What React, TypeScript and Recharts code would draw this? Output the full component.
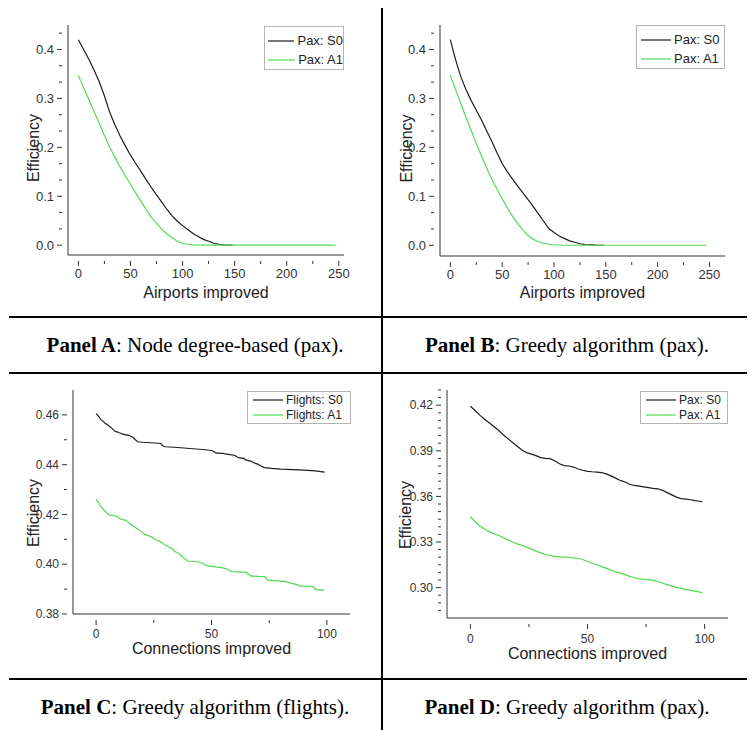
import { LineChart, Line, XAxis, YAxis, Legend } from "recharts"

const FONT = '"Liberation Sans", Arial, sans-serif'
const SERIF = '"Liberation Serif", "Times New Roman", serif'
const AXIS = "#333"
const TEXT = "#333"
const BLACK = "#1c1c1c"
const GREEN = "#4fdb4f"

// Panel A - node degree-based (pax)
const aS0X = [0, 5, 10, 15, 20, 25, 30, 35, 40, 45, 50, 55, 60, 65, 70, 75, 80, 85, 90, 95, 100, 105, 110, 115, 120, 125, 130, 135, 140, 148]
const aS0Y = [0.420, 0.400, 0.380, 0.358, 0.334, 0.305, 0.272, 0.246, 0.223, 0.203, 0.184, 0.167, 0.151, 0.134, 0.118, 0.103, 0.088, 0.073, 0.060, 0.049, 0.040, 0.032, 0.024, 0.018, 0.012, 0.008, 0.004, 0.002, 0.0005, 0]
const aA1X = [0, 5, 10, 15, 20, 25, 30, 35, 40, 45, 50, 55, 60, 65, 70, 75, 80, 85, 90, 95, 100, 105, 110, 120, 150, 200, 247]
const aA1Y = [0.347, 0.322, 0.298, 0.273, 0.249, 0.224, 0.200, 0.180, 0.160, 0.142, 0.125, 0.107, 0.090, 0.073, 0.057, 0.045, 0.033, 0.023, 0.015, 0.008, 0.004, 0.002, 0.0005, 0, 0, 0, 0]

// Panel B - greedy (pax), airports
const bS0X = [0, 3, 6, 10, 15, 20, 25, 30, 35, 40, 45, 50, 55, 60, 65, 70, 75, 80, 85, 90, 95, 100, 105, 110, 115, 120, 125, 130, 140, 148]
const bS0Y = [0.420, 0.395, 0.372, 0.345, 0.318, 0.296, 0.276, 0.256, 0.234, 0.212, 0.189, 0.167, 0.150, 0.135, 0.121, 0.107, 0.093, 0.079, 0.064, 0.049, 0.034, 0.026, 0.019, 0.014, 0.009, 0.006, 0.003, 0.0015, 0.0003, 0]
const bA1X = [0, 5, 10, 15, 20, 25, 30, 35, 40, 45, 50, 55, 60, 65, 70, 75, 80, 85, 90, 95, 100, 110, 150, 200, 247]
const bA1Y = [0.347, 0.318, 0.290, 0.262, 0.235, 0.208, 0.183, 0.158, 0.135, 0.115, 0.095, 0.076, 0.059, 0.044, 0.031, 0.020, 0.012, 0.007, 0.004, 0.002, 0.001, 0, 0, 0, 0]

// Panel C - greedy (flights), connections
const cS0X = [0, 1, 2, 3, 4, 5, 6, 7, 8, 9, 10, 12, 14, 16, 17, 18, 20, 24, 28, 29, 30, 34, 38, 42, 46, 50, 51, 52, 55, 56, 58, 60, 61, 62, 64, 65, 67, 68, 69, 70, 72, 73, 76, 80, 85, 90, 95, 99]
const cS0Y = [0.4605, 0.4595, 0.4582, 0.4575, 0.4565, 0.4560, 0.4552, 0.4545, 0.4535, 0.4532, 0.4528, 0.4522, 0.4518, 0.4510, 0.4500, 0.4492, 0.4490, 0.4488, 0.4485, 0.4475, 0.4472, 0.4470, 0.4467, 0.4464, 0.4461, 0.4457, 0.4453, 0.4446, 0.4445, 0.4443, 0.4440, 0.4438, 0.4432, 0.4427, 0.4425, 0.4418, 0.4414, 0.4410, 0.4405, 0.4402, 0.4392, 0.4388, 0.4385, 0.4382, 0.4380, 0.4378, 0.4375, 0.4370]
const cA1X = [0, 1, 2, 3, 4, 5, 6, 8, 9, 10, 11, 12, 13, 14, 15, 16, 17, 18, 19, 20, 21, 22, 24, 25, 26, 28, 29, 30, 31, 33, 34, 35, 36, 37, 38, 39, 40, 44, 46, 47, 48, 50, 55, 57, 58, 59, 65, 66, 67, 70, 73, 74, 75, 80, 82, 84, 87, 88, 94, 95, 96, 99]
const cA1Y = [0.4262, 0.4248, 0.4232, 0.4222, 0.4212, 0.4203, 0.4197, 0.4195, 0.4192, 0.4186, 0.4180, 0.4178, 0.4176, 0.4168, 0.4160, 0.4155, 0.4148, 0.4142, 0.4135, 0.4128, 0.4120, 0.4117, 0.4110, 0.4103, 0.4097, 0.4090, 0.4083, 0.4077, 0.4072, 0.4062, 0.4052, 0.4047, 0.4043, 0.4033, 0.4025, 0.4018, 0.4012, 0.4010, 0.4005, 0.3998, 0.3993, 0.3991, 0.3985, 0.3980, 0.3973, 0.3970, 0.3967, 0.3960, 0.3953, 0.3951, 0.3950, 0.3940, 0.3935, 0.3932, 0.3930, 0.3925, 0.3918, 0.3913, 0.3910, 0.3900, 0.3897, 0.3897]

// Panel D - greedy (pax), connections
const dX = [0, 2, 4, 6, 8, 10, 12, 14, 16, 18, 20, 22, 24, 26, 28, 30, 32, 34, 36, 38, 40, 42, 44, 46, 48, 50, 52, 54, 56, 58, 60, 62, 64, 66, 68, 70, 72, 74, 76, 78, 80, 82, 84, 86, 88, 90, 92, 94, 96, 98, 99]
const dS0Y = [0.4193, 0.4165, 0.4135, 0.4108, 0.4085, 0.4060, 0.4035, 0.4005, 0.3980, 0.3955, 0.3930, 0.3905, 0.3888, 0.3878, 0.3868, 0.3855, 0.3850, 0.3848, 0.3835, 0.3815, 0.3803, 0.3800, 0.3793, 0.3780, 0.3772, 0.3765, 0.3762, 0.3760, 0.3757, 0.3748, 0.3735, 0.3720, 0.3705, 0.3695, 0.3680, 0.3672, 0.3668, 0.3663, 0.3658, 0.3653, 0.3650, 0.3640, 0.3625, 0.3610, 0.3595, 0.3585, 0.3582, 0.3578, 0.3572, 0.3568, 0.3566]
const dA1Y = [0.3466, 0.3435, 0.3405, 0.3385, 0.3368, 0.3355, 0.3343, 0.3330, 0.3315, 0.3300, 0.3288, 0.3278, 0.3266, 0.3253, 0.3240, 0.3228, 0.3218, 0.3210, 0.3205, 0.3202, 0.3200, 0.3198, 0.3196, 0.3193, 0.3185, 0.3172, 0.3160, 0.3150, 0.3138, 0.3128, 0.3115, 0.3103, 0.3095, 0.3085, 0.3074, 0.3065, 0.3058, 0.3055, 0.3052, 0.3048, 0.3040, 0.3030, 0.3020, 0.3010, 0.3002, 0.2995, 0.2988, 0.2982, 0.2977, 0.2970, 0.2967]

// ticks
const airportMajor = [0, 50, 100, 150, 200, 250]
const airportMinor = [25, 75, 125, 175, 225]
const connMajor = [0, 50, 100]
const connMinor = [25, 75]
const effABMajor = [0, 0.1, 0.2, 0.3, 0.4]
const effABMinor = [0.0333, 0.0667, 0.1333, 0.1667, 0.2333, 0.2667, 0.3333, 0.3667, 0.4333]
const effCMajor = [0.38, 0.40, 0.42, 0.44, 0.46]
const effCMinor = [0.39, 0.41, 0.43, 0.45]
const effDMajor = [0.30, 0.33, 0.36, 0.39, 0.42]
const effDMinor = [0.285, 0.29, 0.295, 0.305, 0.31, 0.315, 0.32, 0.325, 0.335, 0.34, 0.345, 0.35, 0.355, 0.365, 0.37, 0.375, 0.38, 0.385, 0.395, 0.40, 0.405, 0.41, 0.415, 0.425, 0.43]

const zip = (xs: number[], ys: number[]) => xs.map((x, i) => ({ x, y: ys[i] }))
const isMajor = (v: number, majors: number[]) => majors.some((m) => Math.abs(m - v) < 1e-9)

function XTick({ x, y, payload, majors, fontSize, gap }: any) {
  const major = isMajor(payload.value, majors)
  return (
    <g>
      <line x1={x} y1={y} x2={x} y2={y + (major ? 5 : 3)} stroke={AXIS} />
      {major && (
        <text x={x} y={y + gap} dy="0.71em" textAnchor="middle" fill={TEXT} fontSize={fontSize} fontFamily={FONT}>
          {payload.value}
        </text>
      )}
    </g>
  )
}

function YTick({ x, y, payload, majors, fontSize, digits }: any) {
  const major = isMajor(payload.value, majors)
  return (
    <g>
      <line x1={x} y1={y} x2={x - (major ? 5 : 3)} y2={y} stroke={AXIS} />
      {major && (
        <text x={x - 8} y={y} dy="0.35em" textAnchor="end" fill={TEXT} fontSize={fontSize} fontFamily={FONT}>
          {payload.value.toFixed(digits)}
        </text>
      )}
    </g>
  )
}

// legend box, rows kept in series order (recharts sorts by name otherwise)
function LegendBox({ payload, order, boxW, fontSize, rowH, padTop, padLeft }: any) {
  const rows = [...(payload || [])].sort((a: any, b: any) => order.indexOf(a.value) - order.indexOf(b.value))
  return (
    <div style={{ width: boxW, boxSizing: "border-box", border: "1px solid #b4b4b4", background: "#fff", paddingTop: padTop, paddingLeft: padLeft, fontFamily: FONT, fontSize, color: "#222" }}>
      {rows.map((p: any) => (
        <div key={p.value} style={{ display: "flex", alignItems: "center", height: rowH }}>
          <svg width={30} height={4} style={{ display: "block" }}>
            <line x1={0} y1={2} x2={30} y2={2} stroke={p.color} strokeWidth={1.2} />
          </svg>
          <span style={{ marginLeft: 3, whiteSpace: "nowrap" }}>{p.value}</span>
        </div>
      ))}
    </div>
  )
}

function Panel(p: any) {
  const yLabel = ({ viewBox }: any) => {
    const cy = viewBox.y + viewBox.height / 2 + p.yLabelDy
    return (
      <text x={p.yLabelX} y={cy} transform={`rotate(-90 ${p.yLabelX} ${cy})`} textAnchor="middle" dominantBaseline="central" fill="#222" fontSize={16} fontFamily={FONT}>
        Efficiency
      </text>
    )
  }
  return (
    <div style={{ position: "absolute", left: p.left, top: p.top }}>
      <LineChart width={p.width} height={p.height} margin={p.margin}>
        <XAxis
          dataKey="x"
          type="number"
          domain={p.xDomain}
          ticks={[...p.xMajor, ...p.xMinor]}
          interval={0}
          height={p.xAxisH}
          stroke={AXIS}
          tickLine={false}
          tickMargin={0}
          tick={<XTick majors={p.xMajor} fontSize={p.tickFont} gap={p.xTickGap} />}
          label={{ value: p.xLabel, position: "insideBottom", offset: p.xLabelOffset, fill: "#222", fontSize: 16, fontFamily: FONT }}
        />
        <YAxis
          type="number"
          domain={p.yDomain}
          ticks={[...p.yMajor, ...p.yMinor]}
          interval={0}
          width={p.yAxisW}
          stroke={AXIS}
          tickLine={false}
          tickMargin={0}
          tick={<YTick majors={p.yMajor} fontSize={p.tickFont} digits={p.yDigits} />}
          label={{ content: yLabel }}
        />
        <Legend
          layout="horizontal"
          verticalAlign="middle"
          align="center"
          wrapperStyle={{ left: p.legend.left, top: p.legend.top, width: p.legend.boxW }}
          content={<LegendBox {...p.legend} order={p.names} />}
        />
        <Line data={p.s0} dataKey="y" name={p.names[0]} type="linear" stroke={BLACK} strokeWidth={1.2} dot={false} isAnimationActive={false} />
        <Line data={p.a1} dataKey="y" name={p.names[1]} type="linear" stroke={GREEN} strokeWidth={1.2} dot={false} isAnimationActive={false} />
      </LineChart>
    </div>
  )
}

function Caption({ left, top, bold, rest }: any) {
  return (
    <div style={{ position: "absolute", left, top, width: 372, height: 56, display: "flex", alignItems: "center", justifyContent: "center", fontFamily: SERIF, fontSize: 21, color: "#000" }}>
      <span><b>{bold}</b>{rest}</span>
    </div>
  )
}

const hLine = (top: number) => (
  <div style={{ position: "absolute", left: 9, top, width: 744, height: 1.5, background: "#000" }} />
)

export default function App() {
  return (
    <div style={{ position: "relative", left: -8, top: -8, width: 755, height: 730, background: "#fff", overflow: "hidden" }}>
      <Panel
        left={0} top={0} width={380} height={310}
        margin={{ top: 25, right: 36, bottom: 0, left: 0 }}
        yAxisW={68} xAxisH={55}
        xDomain={[-10, 255]} yDomain={[-0.02, 0.45]}
        xMajor={airportMajor} xMinor={airportMinor}
        yMajor={effABMajor} yMinor={effABMinor} yDigits={1}
        tickFont={13} xTickGap={8}
        xLabel="Airports improved" xLabelOffset={12}
        yLabelX={33} yLabelDy={8}
        s0={zip(aS0X, aS0Y)} a1={zip(aA1X, aA1Y)} names={["Pax: S0", "Pax: A1"]}
        legend={{ left: 264, top: 26, boxW: 80, fontSize: 13, rowH: 19, padTop: 4, padLeft: 3 }}
      />
      <Panel
        left={378} top={0} width={377} height={310}
        margin={{ top: 25, right: 30, bottom: 0, left: 0 }}
        yAxisW={62} xAxisH={54}
        xDomain={[-10, 265]} yDomain={[-0.022, 0.45]}
        xMajor={airportMajor} xMinor={airportMinor}
        yMajor={effABMajor} yMinor={effABMinor} yDigits={1}
        tickFont={13} xTickGap={8}
        xLabel="Airports improved" xLabelOffset={12}
        yLabelX={28} yLabelDy={8}
        s0={zip(bS0X, bS0Y)} a1={zip(bA1X, bA1Y)} names={["Pax: S0", "Pax: A1"]}
        legend={{ left: 258, top: 25, boxW: 89, fontSize: 13, rowH: 19, padTop: 4, padLeft: 4 }}
      />
      <Panel
        left={0} top={373} width={380} height={305}
        margin={{ top: 17, right: 30, bottom: 0, left: 0 }}
        yAxisW={73} xAxisH={64}
        xDomain={[-10, 110]} yDomain={[0.38, 0.47]}
        xMajor={connMajor} xMinor={connMinor}
        yMajor={effCMajor} yMinor={effCMinor} yDigits={2}
        tickFont={12} xTickGap={9}
        xLabel="Connections improved" xLabelOffset={24}
        yLabelX={33} yLabelDy={11}
        s0={zip(cS0X, cS0Y)} a1={zip(cA1X, cA1Y)} names={["Flights: S0", "Flights: A1"]}
        legend={{ left: 247, top: 18, boxW: 104, fontSize: 12, rowH: 15.5, padTop: 0, padLeft: 5 }}
      />
      <Panel
        left={378} top={373} width={377} height={305}
        margin={{ top: 17, right: 27, bottom: 0, left: 0 }}
        yAxisW={69} xAxisH={60}
        xDomain={[-10, 110]} yDomain={[0.28, 0.43]}
        xMajor={connMajor} xMinor={connMinor}
        yMajor={effDMajor} yMinor={effDMinor} yDigits={2}
        tickFont={12} xTickGap={10}
        xLabel="Connections improved" xLabelOffset={19}
        yLabelX={27} yLabelDy={11}
        s0={zip(dX, dS0Y)} a1={zip(dX, dA1Y)} names={["Pax: S0", "Pax: A1"]}
        legend={{ left: 262, top: 18, boxW: 88, fontSize: 12, rowH: 15.5, padTop: 0, padLeft: 5 }}
      />
      {hLine(316)}
      {hLine(372)}
      {hLine(678)}
      <div style={{ position: "absolute", left: 381, top: 8, width: 1.5, height: 722, background: "#000" }} />
      <Caption left={9} top={317} bold="Panel A" rest=": Node degree-based (pax)." />
      <Caption left={381} top={317} bold="Panel B" rest=": Greedy algorithm (pax)." />
      <Caption left={9} top={679} bold="Panel C" rest=": Greedy algorithm (flights)." />
      <Caption left={381} top={679} bold="Panel D" rest=": Greedy algorithm (pax)." />
    </div>
  )
}
